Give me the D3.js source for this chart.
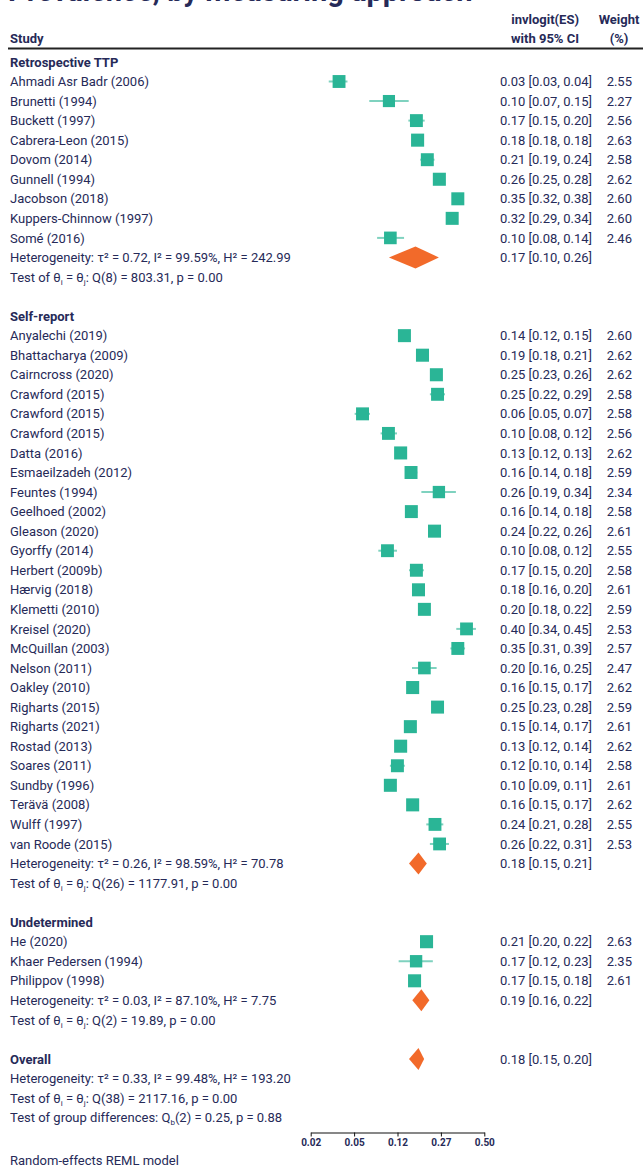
<!DOCTYPE html>
<html><head><meta charset="utf-8">
<script src="https://cdn.jsdelivr.net/npm/d3@7/dist/d3.min.js"></script>
<style>
html,body{margin:0;padding:0;background:#fff;}
svg{display:block;}
text{font-family:Roboto, "Open Sans", sans-serif;fill:#262a58;}
</style></head>
<body>
<svg id="chart" width="643" height="1168"></svg>
<script>
// ---------- DATA ----------
const titleText = "Prevalence, by measuring approach";

const groupNames = ["Retrospective TTP", "Self-report", "Undetermined"];

const retroStudies = ["Ahmadi Asr Badr (2006)","Brunetti (1994)","Buckett (1997)","Cabrera-Leon (2015)","Dovom (2014)","Gunnell (1994)","Jacobson (2018)","Kuppers-Chinnow (1997)","Somé (2016)"];
const retroES = [0.034,0.100,0.173,0.177,0.212,0.262,0.352,0.323,0.103];
const retroLo = [0.027,0.066,0.148,0.176,0.186,0.248,0.322,0.294,0.078];
const retroHi = [0.041,0.149,0.202,0.178,0.241,0.276,0.381,0.344,0.136];
const retroW  = [2.55,2.27,2.56,2.63,2.58,2.62,2.60,2.60,2.46];

const selfStudies = ["Anyalechi (2019)","Bhattacharya (2009)","Cairncross (2020)","Crawford (2015)","Crawford (2015)","Crawford (2015)","Datta (2016)","Esmaeilzadeh (2012)","Feuntes (1994)","Geelhoed (2002)","Gleason (2020)","Gyorffy (2014)","Herbert (2009b)","Hærvig (2018)","Klemetti (2010)","Kreisel (2020)","McQuillan (2003)","Nelson (2011)","Oakley (2010)","Righarts (2015)","Righarts (2021)","Rostad (2013)","Soares (2011)","Sundby (1996)","Terävä (2008)","Wulff (1997)","van Roode (2015)"];
const selfES = [0.137,0.194,0.249,0.254,0.057,0.099,0.127,0.156,0.260,0.157,0.241,0.097,0.173,0.180,0.201,0.399,0.352,0.201,0.161,0.254,0.154,0.127,0.119,0.103,0.161,0.243,0.263];
const selfLo = [0.124,0.180,0.234,0.222,0.048,0.084,0.121,0.139,0.190,0.140,0.222,0.080,0.150,0.162,0.182,0.344,0.314,0.159,0.152,0.231,0.142,0.117,0.102,0.094,0.151,0.208,0.222];
const selfHi = [0.152,0.208,0.264,0.288,0.067,0.118,0.133,0.176,0.342,0.177,0.262,0.118,0.199,0.199,0.222,0.452,0.391,0.250,0.171,0.278,0.167,0.138,0.138,0.113,0.171,0.280,0.307];
const selfW  = [2.60,2.62,2.62,2.58,2.58,2.56,2.62,2.59,2.34,2.58,2.61,2.55,2.58,2.61,2.59,2.53,2.57,2.47,2.62,2.59,2.61,2.62,2.58,2.61,2.62,2.55,2.53];

const undetStudies = ["He (2020)","Khaer Pedersen (1994)","Philippov (1998)"];
const undetES = [0.209,0.172,0.167];
const undetLo = [0.198,0.122,0.152];
const undetHi = [0.221,0.234,0.183];
const undetW  = [2.63,2.35,2.61];

const groupES = [0.17,0.18,0.19];
const groupLo = [0.10,0.15,0.16];
const groupHi = [0.26,0.21,0.22];
const groupTau = ["0.72","0.26","0.03"];
const groupI2  = ["99.59","98.59","87.10"];
const groupH2  = ["242.99","70.78","7.75"];
const groupQdf = ["8","26","2"];
const groupQ   = ["803.31","1177.91","19.89"];
const groupP   = ["0.00","0.00","0.00"];

const overallES = 0.18, overallLo = 0.15, overallHi = 0.20;
const overallTau = "0.33", overallI2 = "99.48", overallH2 = "193.20";
const overallQdf = "38", overallQ = "2117.16", overallP = "0.00";
const groupDiffDf = "2", groupDiffQ = "0.25", groupDiffP = "0.88";

const tickLogits = [-4,-3,-2,-1,0];
const tickLabels = ["0.02","0.05","0.12","0.27","0.50"];
const footnote = "Random-effects REML model";

// ---------- LAYOUT ----------
const svg = d3.select("#chart");
const TEXT = "#262a58", BOX = "#2ab596", CI = "#7fd2bf", DIA = "#f26a2a";
const logit = p => Math.log(p/(1-p));
const x = d3.scaleLinear().domain([-4,0]).range([310.7,484.3]);
const rowY = i => 81.5 + i*19.55;
const fmt = d3.format(".2f");
const boxSide = w => 8.06*Math.sqrt(w);
const FS = 13;
const COLV = 500, COLW = 632;

// title (cut off at top, as in the reference)
svg.append("text").attr("x",8).attr("y",1).attr("font-size",29).attr("font-weight",700)
  .style("fill","#262a58").text(titleText);

// header
svg.append("text").attr("x",10).attr("y",43).attr("font-size",FS).attr("font-weight",700).text("Study");
svg.append("text").attr("x",579).attr("y",24).attr("font-size",FS).attr("font-weight",700).attr("text-anchor","end").text("invlogit(ES)");
svg.append("text").attr("x",579).attr("y",43).attr("font-size",FS).attr("font-weight",700).attr("text-anchor","end").text("with 95% CI");
svg.append("text").attr("x",619).attr("y",24).attr("font-size",FS).attr("font-weight",700).attr("text-anchor","middle").text("Weight");
svg.append("text").attr("x",619).attr("y",43).attr("font-size",FS).attr("font-weight",700).attr("text-anchor","middle").text("(%)");
svg.append("line").attr("x1",8).attr("x2",643).attr("y1",48.5).attr("y2",48.5).attr("stroke","#222").attr("stroke-width",2);

function label(i, str, bold){
  svg.append("text").attr("x",10).attr("y",rowY(i)+4.6).attr("font-size",FS)
    .attr("font-weight",bold?700:400).text(str);
}
function hetLine(i, tau, i2, h2){
  label(i, `Heterogeneity: τ² = ${tau}, I² = ${i2}%, H² = ${h2}`);
}
function testLine(i, df, q, p){
  const t = svg.append("text").attr("x",10).attr("y",rowY(i)+4.6).attr("font-size",FS);
  t.append("tspan").text("Test of θ");
  t.append("tspan").attr("font-size",8).attr("dy",3).text("i");
  t.append("tspan").attr("dy",-3).text(" = θ");
  t.append("tspan").attr("font-size",8).attr("dy",3).text("j");
  t.append("tspan").attr("dy",-3).text(`: Q(${df}) = ${q}, p = ${p}`);
}
function studyRow(i, name, es, lo, hi, w){
  label(i, name);
  const cy = rowY(i);
  svg.append("line").attr("x1",x(logit(lo))).attr("x2",x(logit(hi)))
    .attr("y1",cy).attr("y2",cy).attr("stroke",CI).attr("stroke-width",2);
  const s = boxSide(w);
  svg.append("rect").attr("x",x(logit(es))-s/2).attr("y",cy-s/2).attr("width",s).attr("height",s).attr("fill",BOX);
  svg.append("text").attr("x",COLV).attr("y",cy+4.6).attr("font-size",FS)
    .text(`${fmt(es)} [${fmt(lo)}, ${fmt(hi)}]`);
  svg.append("text").attr("x",COLW).attr("y",cy+4.6).attr("font-size",FS).attr("text-anchor","end").text(fmt(w));
}
function diamond(i, es, lo, hi){
  const cy = rowY(i), h = 11;
  const pts = [[x(logit(lo)),cy],[x(logit(es)),cy-h],[x(logit(hi)),cy],[x(logit(es)),cy+h]];
  svg.append("polygon").attr("points",pts.map(p=>p.join(",")).join(" ")).attr("fill",DIA);
  svg.append("text").attr("x",COLV).attr("y",cy+4.6).attr("font-size",FS)
    .text(`${fmt(es)} [${fmt(lo)}, ${fmt(hi)}]`);
}

const groups = [
  [retroStudies,retroES,retroLo,retroHi,retroW],
  [selfStudies,selfES,selfLo,selfHi,selfW],
  [undetStudies,undetES,undetLo,undetHi,undetW]
];
let r = -1;
groups.forEach((g,gi)=>{
  label(r, groupNames[gi], true);
  r++;
  g[0].forEach((n,k)=>{ studyRow(r, n, g[1][k], g[2][k], g[3][k], g[4][k]); r++; });
  hetLine(r, groupTau[gi], groupI2[gi], groupH2[gi]);
  diamond(r, groupES[gi], groupLo[gi], groupHi[gi]);
  r++;
  testLine(r, groupQdf[gi], groupQ[gi], groupP[gi]);
  r += 2;
});
// overall
label(r, "Overall", true);
diamond(r, overallES, overallLo, overallHi);
r++;
hetLine(r, overallTau, overallI2, overallH2); r++;
testLine(r, overallQdf, overallQ, overallP); r++;
{
  const t = svg.append("text").attr("x",10).attr("y",rowY(r)+4.6).attr("font-size",FS);
  t.append("tspan").text("Test of group differences: Q");
  t.append("tspan").attr("font-size",8).attr("dy",3).text("b");
  t.append("tspan").attr("dy",-3).text(`(${groupDiffDf}) = ${groupDiffQ}, p = ${groupDiffP}`);
}

// axis
const axis = d3.axisBottom(x).tickValues(tickLogits).tickFormat((d,i)=>tickLabels[i]).tickSize(4).tickSizeOuter(0);
const ag = svg.append("g").attr("transform","translate(0,1132.5)").call(axis);
ag.select(".domain").attr("stroke","#111").attr("stroke-width",1.2);
ag.selectAll(".tick line").attr("stroke","#111");
ag.selectAll(".tick text").attr("font-size",10).attr("font-weight",700).attr("font-family","Roboto").style("fill",TEXT).attr("dy","0.72em").attr("y",6);

svg.append("text").attr("x",10).attr("y",1165).attr("font-size",FS).text(footnote);
</script>
</body></html>
